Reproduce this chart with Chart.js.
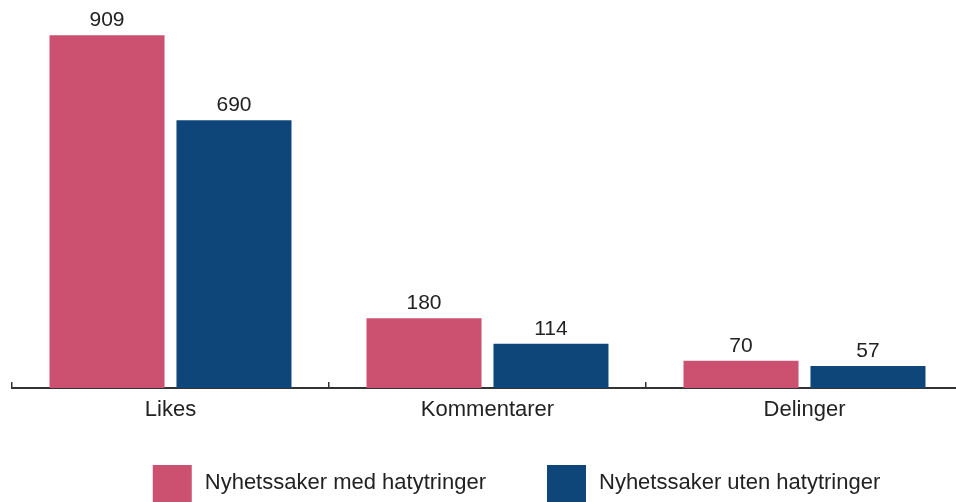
<!DOCTYPE html>
<html>
<head>
<meta charset="utf-8">
<script src="https://cdn.jsdelivr.net/npm/chart.js@4.4.1/dist/chart.umd.min.js"></script>
<style>
  html, body { margin: 0; padding: 0; background: #fff; overflow: hidden; }
  #wrap { width: 956px; height: 502px; overflow: hidden; position: relative; }
  canvas { display: block; }
</style>
</head>
<body>
<div id="wrap"><canvas id="c" width="975" height="502"></canvas></div>
<script>
const categories = ["Likes", "Kommentarer", "Delinger"];
const seriesNames = ["Nyhetssaker med hatytringer", "Nyhetssaker uten hatytringer"];
const medHat = [909, 180, 70];
const utenHat = [690, 114, 57];
const colors = ["#CC5170", "#0F467A"];

const FONT = "'Liberation Sans', Arial, sans-serif";
const TEXT = "#222222";

const valueLabels = {
  id: 'valueLabels',
  afterDatasetsDraw(chart) {
    const ctx = chart.ctx;
    ctx.save();
    ctx.font = "21px " + FONT;
    ctx.fillStyle = TEXT;
    ctx.textAlign = 'center';
    ctx.textBaseline = 'alphabetic';
    chart.data.datasets.forEach((ds, i) => {
      const meta = chart.getDatasetMeta(i);
      meta.data.forEach((el, j) => {
        ctx.fillText(String(ds.data[j]), el.x, el.y - 9);
      });
    });
    ctx.restore();
  }
};

const customLegend = {
  id: 'customLegend',
  afterDraw(chart) {
    const ctx = chart.ctx;
    ctx.save();
    ctx.font = "22px " + FONT;
    const boxW = 39, boxH = 37, gapText = 13, gapItem = 61;
    const items = chart.data.datasets.map(ds => ({
      label: ds.label, color: ds.backgroundColor, w: ctx.measureText(ds.label).width
    }));
    const total = items.reduce((s, it) => s + boxW + gapText + it.w, 0) + gapItem * (items.length - 1);
    let x = 516.5 - total / 2;
    const cy = 483;
    items.forEach(it => {
      ctx.fillStyle = it.color;
      ctx.fillRect(x, cy - 18, boxW, boxH);
      ctx.fillStyle = TEXT;
      ctx.textAlign = 'left';
      ctx.textBaseline = 'middle';
      ctx.fillText(it.label, x + boxW + gapText, cy);
      x += boxW + gapText + it.w + gapItem;
    });
    ctx.restore();
  }
};

new Chart(document.getElementById('c'), {
  type: 'bar',
  data: {
    labels: categories,
    datasets: [
      { label: seriesNames[0], data: medHat, backgroundColor: colors[0] },
      { label: seriesNames[1], data: utenHat, backgroundColor: colors[1] }
    ]
  },
  options: {
    responsive: false,
    animation: false,
    devicePixelRatio: 1,
    categoryPercentage: 0.801,
    barPercentage: 0.906,
    layout: { padding: { left: 12, right: 12, top: 0, bottom: 0 } },
    plugins: { legend: { display: false }, tooltip: { enabled: false } },
    scales: {
      x: {
        offset: true,
        grid: {
          offset: true,
          drawOnChartArea: false,
          drawTicks: true,
          tickLength: -6,
          color: '#333333',
          lineWidth: 1.5
        },
        border: { display: true, color: '#333333', width: 2 },
        ticks: { color: TEXT, font: { size: 22, family: FONT }, padding: 15 },
        afterFit(scale) { scale.height = 114; }
      },
      y: {
        display: false,
        min: 0,
        max: 1000
      }
    }
  },
  plugins: [valueLabels, customLegend]
});
</script>
</body>
</html>
